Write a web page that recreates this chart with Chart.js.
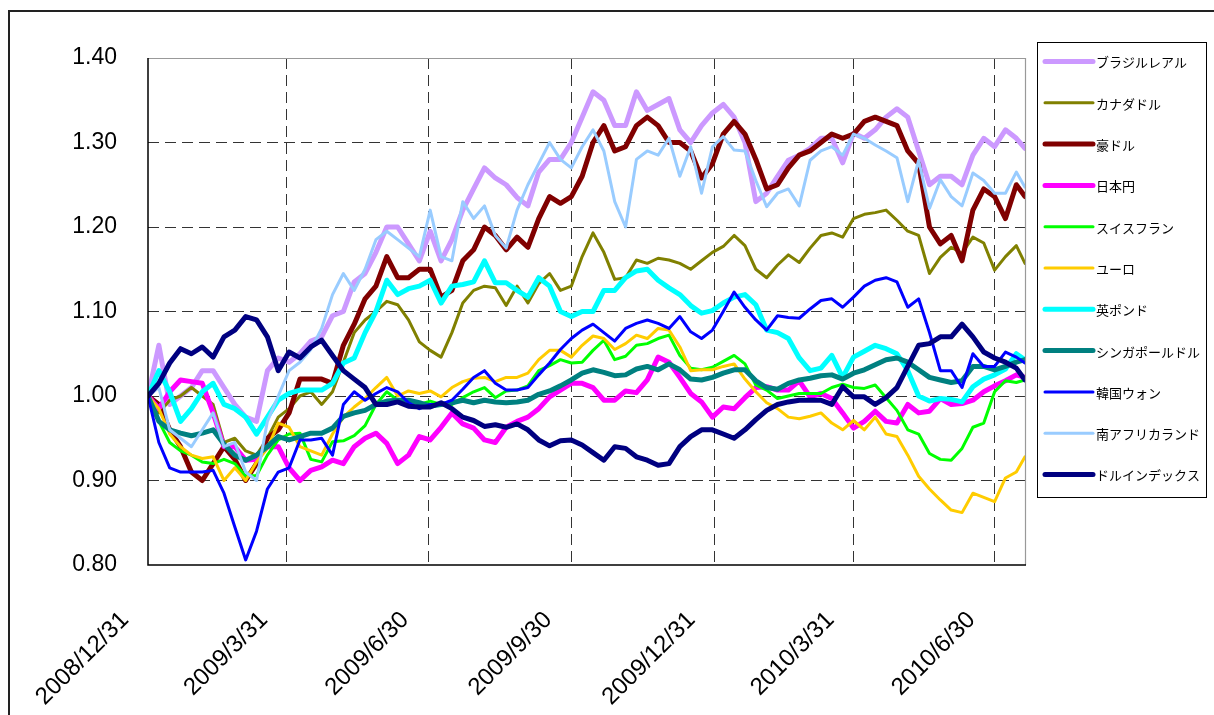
<!DOCTYPE html>
<html><head><meta charset="utf-8">
<script src="https://cdn.jsdelivr.net/npm/chart.js@4.4.1/dist/chart.umd.min.js"></script>
<style>html,body{margin:0;padding:0;background:#fff}canvas{display:block}</style>
</head><body>
<canvas id="c" width="1214" height="715"></canvas>
<script>
// business-day index counted from 2008/12/31
const dayIndex = [0,5,10,15,20,25,30,35,40,45,50,55,60,65,70,75,80,85,90,95,100,105,110,115,120,125,130,135,140,145,150,155,160,165,170,175,180,185,190,195,200,205,210,215,220,225,230,235,240,245,250,255,260,265,270,275,280,285,290,295,300,305,310,315,320,325,330,335,340,345,350,355,360,365,370,375,380,385,390,395,400,404];
const tickIndex = [0,64,129,195,261,325,390];
const tickLabels = ['2008/12/31','2009/3/31','2009/6/30','2009/9/30','2009/12/31','2010/3/31','2010/6/30'];
const seriesNames = ['ブラジルレアル','カナダドル','豪ドル','日本円','スイスフラン','ユーロ','英ポンド','シンガポールドル','韓国ウォン','南アフリカランド','ドルインデックス'];

const brl = [1.00,1.06,0.99,1.00,1.01,1.03,1.03,1.01,0.99,0.975,0.97,1.03,1.045,1.04,1.05,1.065,1.07,1.095,1.10,1.135,1.145,1.17,1.20,1.20,1.18,1.16,1.195,1.16,1.185,1.22,1.245,1.27,1.258,1.25,1.235,1.225,1.265,1.28,1.28,1.30,1.33,1.36,1.35,1.32,1.32,1.36,1.338,1.345,1.352,1.315,1.30,1.32,1.335,1.345,1.33,1.30,1.23,1.24,1.26,1.279,1.285,1.293,1.305,1.305,1.276,1.311,1.305,1.315,1.33,1.34,1.33,1.29,1.25,1.26,1.26,1.25,1.285,1.305,1.295,1.315,1.305,1.293];
const cad = [1.00,0.98,0.995,1.00,1.01,1.00,0.99,0.945,0.95,0.935,0.93,0.95,0.975,0.985,1.00,1.005,0.99,1.005,1.04,1.075,1.09,1.10,1.112,1.108,1.09,1.064,1.054,1.046,1.075,1.11,1.125,1.13,1.128,1.107,1.13,1.11,1.133,1.145,1.125,1.13,1.165,1.193,1.17,1.138,1.14,1.161,1.157,1.163,1.161,1.157,1.15,1.16,1.17,1.177,1.19,1.178,1.15,1.14,1.155,1.167,1.158,1.175,1.19,1.193,1.188,1.21,1.215,1.217,1.22,1.208,1.195,1.19,1.145,1.164,1.176,1.169,1.188,1.181,1.149,1.165,1.178,1.157];
const aud = [1.00,0.99,0.96,0.94,0.91,0.90,0.92,0.94,0.925,0.90,0.92,0.95,0.96,0.98,1.02,1.02,1.02,1.015,1.06,1.085,1.115,1.13,1.165,1.14,1.14,1.15,1.15,1.117,1.125,1.16,1.173,1.20,1.19,1.173,1.188,1.176,1.21,1.236,1.228,1.236,1.26,1.30,1.32,1.29,1.295,1.32,1.33,1.32,1.30,1.30,1.29,1.258,1.275,1.31,1.325,1.31,1.28,1.245,1.25,1.27,1.285,1.29,1.30,1.31,1.305,1.31,1.325,1.33,1.325,1.32,1.29,1.275,1.20,1.18,1.19,1.16,1.22,1.245,1.236,1.21,1.25,1.236];
const jpy = [1.00,0.985,1.005,1.019,1.017,1.015,0.98,0.94,0.94,0.924,0.925,0.94,0.94,0.915,0.90,0.912,0.916,0.924,0.92,0.94,0.95,0.956,0.944,0.92,0.93,0.952,0.948,0.963,0.98,0.967,0.962,0.948,0.945,0.963,0.97,0.975,0.985,0.999,1.007,1.015,1.015,1.01,0.995,0.995,1.006,1.004,1.019,1.046,1.04,1.022,1.003,0.993,0.975,0.987,0.985,0.998,1.01,1.011,1.007,1.007,1.018,0.999,1.003,0.997,0.98,0.962,0.97,0.982,0.97,0.968,0.99,0.98,0.982,0.997,0.99,0.991,0.995,1.005,1.012,1.018,1.025,1.022];
const chf = [1.00,0.97,0.945,0.935,0.93,0.922,0.92,0.925,0.92,0.905,0.906,0.93,0.948,0.955,0.956,0.925,0.922,0.946,0.947,0.953,0.965,0.99,1.005,0.995,0.995,0.99,0.994,0.99,0.99,0.998,1.005,1.01,0.998,1.006,1.007,1.012,1.03,1.036,1.043,1.039,1.04,1.054,1.066,1.043,1.047,1.06,1.062,1.068,1.072,1.048,1.033,1.031,1.034,1.041,1.048,1.038,1.013,1.007,0.997,1.00,1.003,1.003,1.003,1.01,1.014,1.01,1.009,1.013,0.998,0.983,0.96,0.955,0.932,0.925,0.924,0.938,0.963,0.968,1.005,1.018,1.016,1.019];
const eur = [1.00,0.985,0.955,0.94,0.93,0.926,0.928,0.90,0.915,0.90,0.922,0.938,0.968,0.963,0.94,0.935,0.93,0.955,0.975,0.987,0.997,1.01,1.022,1.00,1.006,1.003,1.006,0.999,1.01,1.017,1.021,1.022,1.017,1.022,1.022,1.027,1.043,1.054,1.054,1.046,1.06,1.071,1.068,1.055,1.062,1.072,1.068,1.08,1.078,1.058,1.03,1.031,1.031,1.035,1.038,1.02,1.005,0.992,0.985,0.975,0.973,0.976,0.98,0.968,0.96,0.971,0.96,0.975,0.955,0.952,0.93,0.905,0.89,0.877,0.865,0.862,0.885,0.88,0.875,0.903,0.91,0.928];
const gbp = [1.00,1.03,1.005,0.97,0.985,1.005,1.015,0.99,0.985,0.975,0.955,0.975,0.995,1.003,1.007,1.007,1.007,1.015,1.039,1.045,1.075,1.10,1.137,1.12,1.127,1.13,1.137,1.11,1.13,1.132,1.135,1.16,1.134,1.134,1.125,1.117,1.14,1.13,1.10,1.094,1.10,1.10,1.125,1.125,1.14,1.148,1.15,1.137,1.128,1.12,1.107,1.098,1.101,1.11,1.117,1.12,1.108,1.078,1.075,1.068,1.045,1.03,1.033,1.048,1.022,1.046,1.053,1.06,1.056,1.05,1.03,1.00,0.994,0.997,0.996,0.993,1.011,1.02,1.025,1.032,1.05,1.043];
const sgd = [1.00,0.97,0.96,0.956,0.953,0.956,0.96,0.943,0.93,0.924,0.93,0.94,0.952,0.948,0.952,0.956,0.956,0.962,0.976,0.98,0.983,0.99,0.994,0.995,0.995,0.992,0.988,0.99,0.992,0.995,0.992,0.995,0.993,0.992,0.993,0.995,1.002,1.006,1.012,1.019,1.027,1.031,1.028,1.024,1.025,1.032,1.035,1.031,1.038,1.031,1.02,1.019,1.022,1.027,1.031,1.031,1.018,1.01,1.008,1.015,1.019,1.021,1.024,1.025,1.02,1.027,1.031,1.037,1.043,1.045,1.04,1.031,1.022,1.019,1.016,1.018,1.035,1.035,1.031,1.035,1.04,1.043];
const krw = [1.00,0.945,0.915,0.91,0.91,0.91,0.912,0.885,0.845,0.806,0.84,0.89,0.91,0.915,0.948,0.948,0.95,0.93,0.99,1.005,0.995,1.003,1.01,1.005,0.992,0.985,0.99,0.99,0.995,1.008,1.022,1.03,1.015,1.007,1.007,1.01,1.025,1.039,1.055,1.068,1.078,1.085,1.075,1.065,1.08,1.086,1.09,1.086,1.08,1.094,1.076,1.068,1.078,1.10,1.123,1.105,1.09,1.078,1.095,1.093,1.092,1.103,1.113,1.115,1.105,1.117,1.13,1.137,1.14,1.135,1.105,1.115,1.075,1.03,1.03,1.01,1.05,1.035,1.035,1.052,1.046,1.039];
const zar = [1.00,1.01,0.96,0.95,0.94,0.96,0.98,0.94,0.945,0.91,0.90,0.97,1.00,1.03,1.04,1.055,1.08,1.12,1.145,1.125,1.15,1.185,1.195,1.185,1.175,1.165,1.22,1.165,1.16,1.23,1.21,1.225,1.19,1.175,1.22,1.25,1.275,1.30,1.28,1.27,1.295,1.315,1.29,1.23,1.20,1.28,1.29,1.285,1.305,1.26,1.295,1.24,1.295,1.307,1.291,1.29,1.255,1.224,1.24,1.245,1.225,1.279,1.29,1.295,1.285,1.31,1.305,1.297,1.29,1.282,1.23,1.279,1.222,1.256,1.236,1.225,1.264,1.255,1.24,1.24,1.265,1.247];
const usdIndex = [1.00,1.015,1.039,1.056,1.05,1.058,1.046,1.07,1.078,1.094,1.09,1.07,1.03,1.052,1.045,1.058,1.066,1.048,1.03,1.02,1.01,0.99,0.99,0.993,0.988,0.987,0.987,0.992,0.985,0.975,0.971,0.964,0.966,0.963,0.967,0.96,0.948,0.941,0.947,0.948,0.942,0.933,0.924,0.94,0.938,0.928,0.924,0.918,0.92,0.94,0.952,0.96,0.96,0.955,0.95,0.96,0.972,0.983,0.99,0.993,0.995,0.995,0.995,0.99,1.011,0.999,0.999,0.99,0.998,1.01,1.035,1.06,1.062,1.07,1.07,1.085,1.07,1.052,1.045,1.04,1.033,1.019];

const seriesValues = [brl,cad,aud,jpy,chf,eur,gbp,sgd,krw,zar,usdIndex];
const seriesColors = ['#CC99FF','#808000','#800000','#FF00FF','#00FF00','#FFCC00','#00FFFF','#008080','#0000FF','#99CCFF','#000080'];
const seriesWidths = [5,3,5,5,3,3,5,5,3,3,5];

const datasets = seriesNames.map((name, k) => ({
  label: name,
  data: dayIndex.map((d, i) => ({x: d, y: seriesValues[k][i]})),
  borderColor: seriesColors[k],
  backgroundColor: seriesColors[k],
  borderWidth: seriesWidths[k],
  pointRadius: 0,
  tension: 0,
  borderJoinStyle: 'round',
  borderCapStyle: 'round',
  order: seriesNames.length - k
}));

const decorPlugin = {
  id: 'decor',
  beforeDraw(chart) {
    const ctx = chart.ctx;
    ctx.save();
    ctx.fillStyle = '#fff';
    ctx.fillRect(0, 0, chart.width, chart.height);
    ctx.strokeStyle = '#222';
    ctx.lineWidth = 2;
    ctx.strokeRect(9, 11, 1230, 730);
    ctx.restore();
  },
  afterDatasetsDraw(chart) {
    const ctx = chart.ctx;
    const {left, right, top, bottom} = chart.chartArea;
    ctx.save();
    ctx.lineWidth = 1.2;
    ctx.strokeStyle = '#999';
    ctx.beginPath();
    ctx.moveTo(left, top + 0.5); ctx.lineTo(right, top + 0.5);
    ctx.moveTo(right + 0.5, top); ctx.lineTo(right + 0.5, bottom);
    ctx.stroke();
    ctx.strokeStyle = '#000';
    ctx.lineWidth = 1.5;
    ctx.beginPath();
    ctx.moveTo(left, top); ctx.lineTo(left, bottom); ctx.lineTo(right + 1, bottom);
    ctx.stroke();
    ctx.restore();
  },
  afterDraw(chart) {
    const ctx = chart.ctx;
    ctx.save();
    ctx.strokeStyle = '#000';
    ctx.lineWidth = 1;
    ctx.strokeRect(1037.5, 42.5, 169, 455);
    ctx.font = '13px "Noto Sans CJK JP", sans-serif';
    ctx.textBaseline = 'middle';
    ctx.textAlign = 'left';
    chart.data.datasets.forEach((ds, k) => {
      const y = 61.5 + 41.3 * k;
      ctx.strokeStyle = ds.borderColor;
      ctx.lineWidth = ds.borderWidth;
      ctx.lineCap = 'round';
      ctx.beginPath();
      ctx.moveTo(1045, y); ctx.lineTo(1093, y);
      ctx.stroke();
      ctx.fillStyle = '#000';
      ctx.fillText(ds.label, 1096, y + 1);
    });
    ctx.restore();
  }
};

const isEdge = v => Math.abs(v - 1.4) < 1e-6 || Math.abs(v - 0.8) < 1e-6;

new Chart(document.getElementById('c'), {
  type: 'line',
  data: {datasets},
  plugins: [decorPlugin],
  options: {
    responsive: false,
    animation: false,
    devicePixelRatio: 1,
    layout: {padding: {left: 0, top: 58, right: 189, bottom: 0}},
    plugins: {legend: {display: false}, tooltip: {enabled: false}},
    scales: {
      x: {
        type: 'linear',
        min: 0,
        max: 404,
        afterBuildTicks(scale) { scale.ticks = tickIndex.map(v => ({value: v})); },
        afterFit(scale) { scale.height = 150; },
        ticks: {
          autoSkip: false,
          minRotation: 45,
          maxRotation: 45,
          padding: 41,
          labelOffset: -23,
          color: '#000',
          font: {family: '"Liberation Sans", Arial, sans-serif', size: 24},
          callback: v => tickLabels[tickIndex.indexOf(v)]
        },
        grid: {
          drawTicks: false,
          lineWidth: 1,
          color: ctx => (ctx.tick && ctx.tick.value === 0) ? 'rgba(0,0,0,0)' : '#333'
        },
        border: {display: false, dash: [11, 6]}
      },
      y: {
        min: 0.8,
        max: 1.4,
        afterFit(scale) { scale.width = 148; },
        ticks: {
          stepSize: 0.1,
          padding: 31,
          color: '#000',
          font: {family: '"Liberation Sans", Arial, sans-serif', size: 23},
          callback: v => Number(v).toFixed(2)
        },
        grid: {
          drawTicks: false,
          lineWidth: 1,
          color: ctx => (ctx.tick && isEdge(ctx.tick.value)) ? 'rgba(0,0,0,0)' : '#333'
        },
        border: {display: false, dash: [11, 6]}
      }
    }
  }
});
</script>
</body></html>
